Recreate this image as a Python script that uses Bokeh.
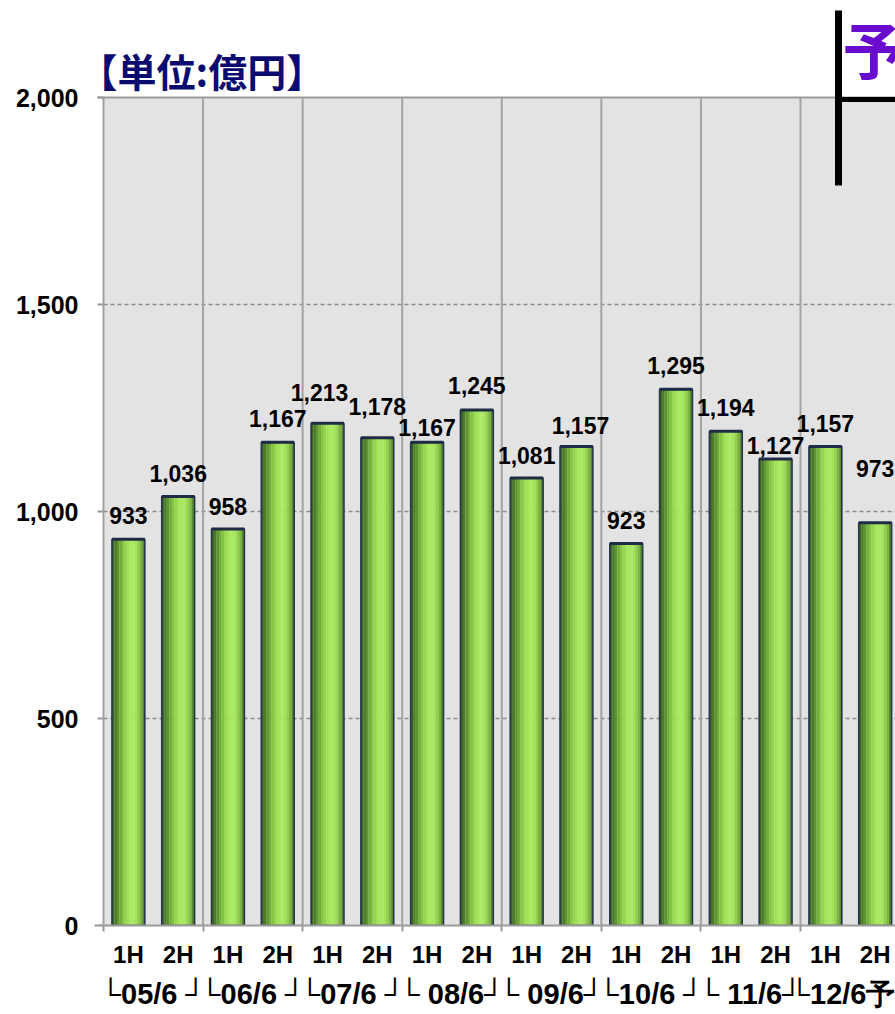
from bokeh.plotting import figure
from bokeh.models import (ColumnDataSource, FixedTicker, NumeralTickFormatter,
                          Label, LinearAxis, Range1d)
from bokeh.transform import dodge
from bokeh.core.properties import value
from bokeh.embed import file_html
from bokeh.resources import INLINE

# ---------------- data ----------------
halves = ["1H", "2H"] * 8
group_labels = ["└05/6 ┘", "└06/6 ┘", "└07/6 ┘", "└ 08/6┘",
                "└ 09/6┘", "└10/6 ┘", "└ 11/6┘", "└12/6予"]
sales = [933, 1036, 958, 1167, 1213, 1178, 1167, 1245,
         1081, 1157, 923, 1295, 1194, 1127, 1157, 973]
y_ticks = [0, 500, 1000, 1500, 2000]
unit_title = "【単位:億円】"
forecast_mark = "予"

# label placement tweaks (pixels)
label_gap = [16, 15, 14, 16, 23, 23, 7, 17, 14, 13, 15, 16, 16, 5, 15, 46]
label_dx = [0, 0, 0, 0, -8, 0, 0, 0, 0, 4, 0, 0, 0, 0, 0, 0]
BASELINE_FIX = 8

# ---------------- derived ----------------
n = len(sales)
ymax = y_ticks[-1]
xs = [i + 0.5 for i in range(n)]
src = ColumnDataSource(dict(
    x=xs, top=sales,
    txt=[f"{v:,}" for v in sales],
    dx=label_dx, dy=[-(g + BASELINE_FIX) for g in label_gap],
))
bounds = list(range(0, n + 1, 2))
group_x = [b + 1 for b in bounds[:-1]]

NUM_FONT = "Liberation Sans"
CJK_FONT = "Noto Sans CJK JP"
PX_X = 99.57 / 2          # pixels per bar slot
PX_Y = 828 / ymax         # pixels per unit value
FRAME_LEFT = 94
FRAME_TOP_EXTRA = 97      # canvas space above the value 2000 line

W, H = 895, 1014
frame_w = W - FRAME_LEFT
x_start = -(103 - FRAME_LEFT) / PX_X
x_end = x_start + frame_w / PX_X
y_end = ymax + FRAME_TOP_EXTRA / PX_Y

p = figure(width=W, height=H,
           x_range=Range1d(x_start, x_end), y_range=Range1d(0, y_end),
           output_backend="svg", toolbar_location=None,
           min_border_left=FRAME_LEFT, min_border_right=0,
           min_border_top=0, min_border_bottom=H - FRAME_TOP_EXTRA - 828)
p.background_fill_color = "white"
p.border_fill_color = "white"
p.outline_line_color = None
p.xgrid.visible = False
p.ygrid.visible = False

# plot-area background
p.quad(left=[bounds[0]], right=[bounds[-1]], bottom=[0], top=[ymax],
       fill_color="#e3e3e3", line_color=None)
# horizontal dashed grid
inner = y_ticks[1:-1]
p.segment(x0=[bounds[0]] * len(inner), x1=[bounds[-1]] * len(inner), y0=inner, y1=inner,
          line_color="#8c8c8c", line_width=1.5, line_dash="4 3")
# vertical group separators
p.segment(x0=bounds, x1=bounds, y0=[0] * len(bounds), y1=[ymax] * len(bounds),
          line_color="#a3a3a3", line_width=2)
# top border
tick_len = 6 / PX_X
p.segment(x0=[-tick_len], x1=[bounds[-1]], y0=[ymax], y1=[ymax],
          line_color="#9a9a9a", line_width=2)
# y tick marks
p.segment(x0=[-tick_len] * len(y_ticks), x1=[0] * len(y_ticks), y0=y_ticks, y1=y_ticks,
          line_color="#9a9a9a", line_width=2)

# bars with gradient strips
grad = ["#3d6623", "#4c7c29", "#5d9430", "#71ad39", "#84c443", "#94d54c",
        "#a0e156", "#a7e85d", "#a9eb60", "#a3e35a", "#93d04d", "#7bb53f", "#5a8a30"]
bw = 0.66
sw = bw / len(grad)
for k, c in enumerate(grad):
    off = -bw / 2 + sw * (k + 0.5)
    p.vbar(x=dodge("x", off, range=p.x_range), top="top", bottom=0, width=sw * 1.05,
           source=src, fill_color=c, line_color=None)
p.vbar(x="x", top="top", bottom=0, width=bw, source=src,
       fill_color=None, line_color="#26364f", line_width=1.6)
# darker top edge
p.scatter(x="x", y="top", source=src, marker="dash", size=bw * PX_X,
          line_color="#1f2c45", line_width=3, angle=0)

# value labels
p.text(x="x", y="top", text="txt", x_offset="dx", y_offset="dy", source=src,
       text_align="center", text_baseline="alphabetic",
       text_font=value(NUM_FONT), text_font_size="23px", text_font_style="bold",
       text_color="black")

# y axis (labels only)
ya = p.yaxis[0]
ya.ticker = FixedTicker(ticks=y_ticks)
ya.formatter = NumeralTickFormatter(format="0,0")
ya.major_label_text_font = NUM_FONT
ya.major_label_text_font_size = "25px"
ya.major_label_text_font_style = "bold"
ya.major_label_text_color = "black"
ya.axis_line_color = None
ya.major_tick_line_color = None
ya.minor_tick_line_color = None
ya.major_tick_out = 0
ya.major_tick_in = 0
ya.major_label_standoff = 16

# x axis (1H / 2H)
xa = p.xaxis[0]
xa.ticker = FixedTicker(ticks=xs, minor_ticks=bounds)
xa.major_label_overrides = {x: h for x, h in zip(xs, halves)}
xa.major_label_text_font = NUM_FONT
xa.major_label_text_font_size = "24px"
xa.major_label_text_font_style = "bold"
xa.major_label_text_color = "black"
xa.major_tick_line_color = None
xa.major_tick_out = 0
xa.major_tick_in = 0
xa.minor_tick_line_color = "#9a9a9a"
xa.minor_tick_line_width = 2
xa.minor_tick_out = 6
xa.minor_tick_in = 0
xa.axis_line_color = "#9a9a9a"
xa.axis_line_width = 2
xa.major_label_standoff = 9

# x axis (fiscal year groups)
ga = LinearAxis(ticker=FixedTicker(ticks=group_x, minor_ticks=[]),
                major_label_overrides={g: t for g, t in zip(group_x, group_labels)})
ga.major_label_text_font = NUM_FONT
ga.major_label_text_font_size = "29px"
ga.major_label_text_font_style = "bold"
ga.major_label_text_color = "black"
ga.axis_line_color = None
ga.major_tick_line_color = None
ga.minor_tick_line_color = None
ga.major_tick_out = 0
ga.major_tick_in = 0
ga.major_label_standoff = 7
p.add_layout(ga, "below")

# unit title
p.add_layout(Label(x=(78 - 103) / PX_X, y=(925 - 69) / PX_Y, text=unit_title,
                   text_font=CJK_FONT, text_font_size="39px", text_font_style="bold",
                   text_color="#0b0b6f", text_baseline="middle", text_align="left"))

# forecast marker and bracket lines
p.add_layout(Label(x=(842 - 103) / PX_X, y=(925 - 47) / PX_Y, text=forecast_mark,
                   text_font=CJK_FONT, text_font_size="62px", text_font_style="bold",
                   text_color="#6a0ccf", text_baseline="middle", text_align="left"))
bx = (838 - 103) / PX_X
p.segment(x0=[bx], x1=[bx], y0=[(925 - 10) / PX_Y], y1=[(925 - 185) / PX_Y],
          line_color="black", line_width=7)
p.segment(x0=[bx], x1=[bounds[-1]], y0=[ymax - 2 / PX_Y], y1=[ymax - 2 / PX_Y],
          line_color="black", line_width=5)

open("out.html", "w").write(file_html(p, INLINE))
